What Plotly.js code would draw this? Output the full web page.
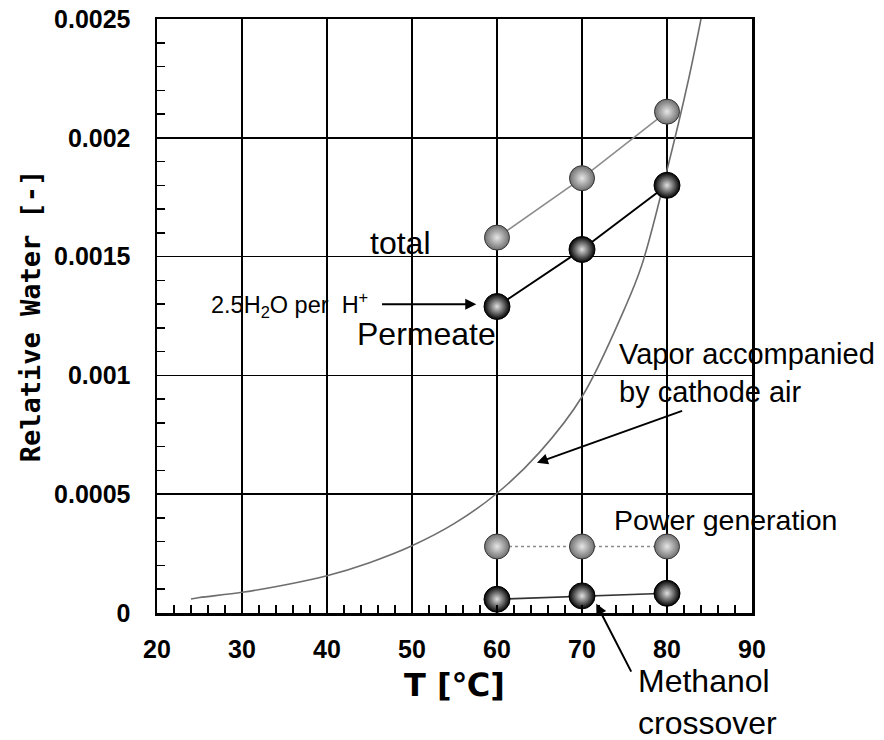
<!DOCTYPE html>
<html>
<head>
<meta charset="utf-8">
<script src="https://cdn.plot.ly/plotly-3.0.1.min.js"></script>
<style>html,body{margin:0;padding:0;background:#fff;}#chart{width:884px;height:740px;}</style>
</head>
<body>
<div id="chart"></div>
<script>
// ---- data ----
var tempC = [60, 70, 80];
var totalWater = [0.00158, 0.00183, 0.00211];
var permeateWater = [0.00129, 0.00153, 0.00180];
var powerGenWater = [0.00028, 0.00028, 0.00028];
var methanolCrossover = [0.000058, 0.000072, 0.000083];

var vaporT = [24, 25, 30, 35, 40, 45, 50, 55, 60, 65, 70, 75, 77, 80, 82.5, 84];
var vaporWater = [0.000059, 0.000065, 0.000087, 0.000118, 0.000157, 0.000212, 0.000283, 0.000377,
                  0.000504, 0.000676, 0.00091, 0.00128, 0.00146, 0.001864, 0.00224, 0.0025];

var xTickVals = [20, 30, 40, 50, 60, 70, 80, 90];
var xTickLabels = ['20', '30', '40', '50', '60', '70', '80', '90'];
var yTickVals = [0, 0.0005, 0.001, 0.0015, 0.002, 0.0025];
var yTickLabels = ['0', '0.0005', '0.001', '0.0015', '0.002', '0.0025'];

var grayBall = {size: 25, color: '#6f6f6f', gradient: {type: 'radial', color: '#e6e6e6'}, line: {color: '#333', width: 1}};
var blackBall = {size: 26, color: '#000000', gradient: {type: 'radial', color: '#e0e0e0'}, line: {color: '#000', width: 1}};

var traces = [
  {x: vaporT, y: vaporWater, mode: 'lines', line: {color: '#6e6e6e', width: 1.6, shape: 'spline'}, name: 'Vapor', hoverinfo: 'skip'},
  {x: tempC, y: totalWater, mode: 'lines+markers', line: {color: '#8c8c8c', width: 1.6}, marker: grayBall, name: 'total'},
  {x: tempC, y: permeateWater, mode: 'lines+markers', line: {color: '#000', width: 2}, marker: blackBall, name: 'Permeate'},
  {x: tempC, y: powerGenWater, mode: 'lines+markers', line: {color: '#8c8c8c', width: 1.4, dash: 'dot'}, marker: grayBall, name: 'Power generation'},
  {x: tempC, y: methanolCrossover, mode: 'lines+markers', line: {color: '#333', width: 1.6}, marker: blackBall, name: 'Methanol crossover'}
];

var txtFont = {family: 'Liberation Sans, Arial, sans-serif', color: '#000'};
function f(sz) { return Object.assign({}, txtFont, {size: sz}); }

var annotations = [
  {x: 48.6, y: 0.001558, xref: 'x', yref: 'y', text: 'total', showarrow: false, font: f(32)},
  {x: 51.7, y: 0.001173, xref: 'x', yref: 'y', text: 'Permeate', showarrow: false, font: f(32)},
  {x: 35.6, y: 0.0013, xref: 'x', yref: 'y', text: '2.5H<sub>2</sub>O per  H<sup>+</sup>', showarrow: false, font: f(23.5)},
  {x: 57.56, y: 0.001299, ax: 46.3, ay: 0.001299, xref: 'x', yref: 'y', axref: 'x', ayref: 'y', text: '', showarrow: true, arrowhead: 2, arrowsize: 1.1, arrowwidth: 2, arrowcolor: '#000', standoff: 0},
  {x: 74.15, y: 0.00101, xref: 'x', yref: 'y', xanchor: 'left', align: 'left', text: 'Vapor accompanied<br>by cathode air', showarrow: false, font: f(29)},
  {x: 64.7, y: 0.000632, ax: 81.95, ay: 0.000853, xref: 'x', yref: 'y', axref: 'x', ayref: 'y', text: '', showarrow: true, arrowhead: 2, arrowsize: 1.1, arrowwidth: 2, arrowcolor: '#000', standoff: 0},
  {x: 73.5, y: 0.00039, xref: 'x', yref: 'y', xanchor: 'left', text: 'Power generation', showarrow: false, font: f(28.5)},
  {x: 76.39, y: -0.150, xref: 'x', yref: 'paper', xanchor: 'left', yanchor: 'middle', align: 'left', text: 'Methanol<br>crossover', showarrow: false, font: f(32)},
  {x: 71.68, y: 0.000039, ax: 75.88, ay: -0.000253, xref: 'x', yref: 'y', axref: 'x', ayref: 'y', text: '', showarrow: true, arrowhead: 2, arrowsize: 1.1, arrowwidth: 2, arrowcolor: '#000', standoff: 0}
];

var tickFont = {family: 'Liberation Sans, Arial, sans-serif', size: 25, color: '#000', weight: 'bold'};

var layout = {
  width: 884, height: 740,
  margin: {l: 157, r: 132, t: 19, b: 127},
  paper_bgcolor: '#fff', plot_bgcolor: '#fff',
  showlegend: false,
  xaxis: {
    range: [20, 90], tickmode: 'array', tickvals: xTickVals, ticktext: xTickLabels,
    ticks: 'inside', ticklen: 8, tickwidth: 1.5, tickcolor: '#000',
    minor: {dtick: 2, ticks: 'inside', ticklen: 8, tickwidth: 1.5, tickcolor: '#000', showgrid: false},
    showgrid: true, gridcolor: '#000', gridwidth: 1.5, zeroline: false,
    showline: true, linecolor: '#000', linewidth: 2.5, mirror: true,
    tickfont: tickFont, ticklabelstandoff: 12,
    title: {text: 'T [℃]', font: {family: 'DejaVu Sans, sans-serif', size: 32, color: '#000', weight: 'bold'}, standoff: 12}
  },
  yaxis: {
    range: [0, 0.0025], tickmode: 'array', tickvals: yTickVals, ticktext: yTickLabels,
    ticks: 'inside', ticklen: 8, tickwidth: 1.5, tickcolor: '#000',
    minor: {dtick: 0.0001, ticks: 'inside', ticklen: 8, tickwidth: 1.5, tickcolor: '#000', showgrid: false},
    showgrid: true, gridcolor: '#000', gridwidth: 1.5, zeroline: false,
    showline: true, linecolor: '#000', linewidth: 2.5, mirror: true,
    tickfont: tickFont, ticklabelstandoff: 19,
    title: {text: 'Relative Water [-]', font: {family: 'DejaVu Sans Mono, monospace', size: 27, color: '#000', weight: 'bold'}, standoff: 6}
  },
  annotations: annotations
};

Plotly.newPlot('chart', traces, layout, {staticPlot: true, displayModeBar: false});
</script>
</body>
</html>
